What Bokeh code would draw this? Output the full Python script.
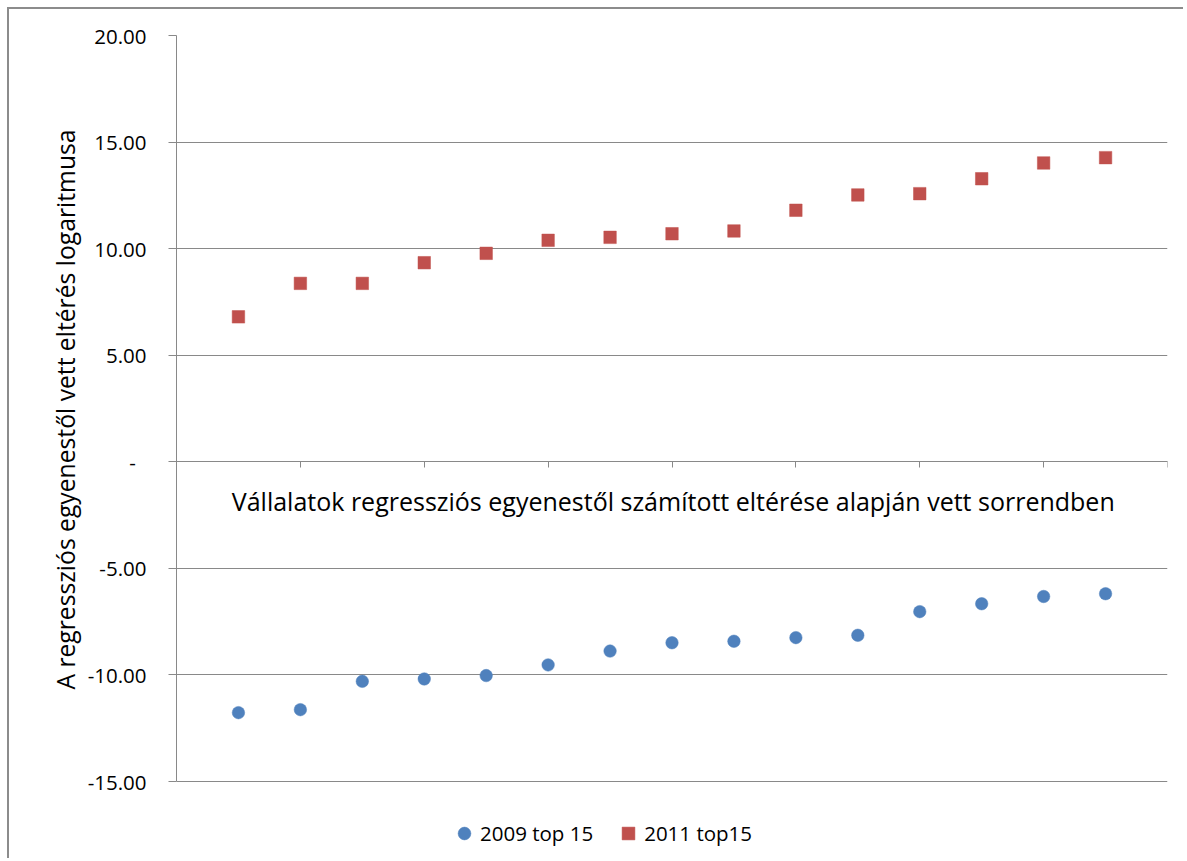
from bokeh.plotting import figure
from bokeh.models import FixedTicker, Legend, LegendItem, Range1d, Label, Title
from bokeh.embed import file_html
from bokeh.resources import INLINE

# ---- data ----
companies = list(range(1, 16))
top_2009 = [-11.77, -11.63, -10.30, -10.19, -10.03, -9.53, -8.88, -8.49,
            -8.42, -8.25, -8.14, -7.03, -6.66, -6.32, -6.19]
top_2011 = [6.80, 8.37, 8.37, 9.34, 9.78, 10.39, 10.53, 10.70,
            10.83, 11.80, 12.52, 12.58, 13.28, 14.02, 14.27]
series_names = ["2009 top 15", "2011 top15"]
y_ticks = [-15, -10, -5, 0, 5, 10, 15, 20]
y_tick_labels = ["-15.00", "-10.00", "-5.00", "-\u00a0\u00a0", "5.00", "10.00", "15.00", "20.00"]
x_ticks = [0, 2, 4, 6, 8, 10, 12, 14, 16]
x_title = "Vállalatok  regressziós egyenestől számított eltérése alapján vett sorrendben"
y_title = "A regressziós egyenestől vett eltérés logaritmusa"

FONT = "Open Sans"
GRAY = "#898989"
BLUE = "#4F81BD"
RED = "#C0504D"

# geometry: axis box spans y_ticks[0]..y_ticks[-1] over 746 px; the drawing
# frame extends further down so the legend can sit below the axis box.
FIG_W, FIG_H = 1176, 851
TOP, LEFT, RIGHT = 26, 167, 18
AXIS_PX = 746
frame_h = FIG_H - TOP
y_lo, y_hi = y_ticks[0], y_ticks[-1]
px_per_unit = AXIS_PX / (y_hi - y_lo)
y_start = y_hi - frame_h / px_per_unit

p = figure(width=FIG_W, height=FIG_H,
           x_range=Range1d(x_ticks[0], x_ticks[-1]), y_range=Range1d(y_start, y_hi),
           output_backend="svg", toolbar_location=None,
           min_border_left=LEFT, min_border_right=RIGHT,
           min_border_top=TOP, min_border_bottom=0)
p.outline_line_color = None
p.background_fill_color = "white"
p.border_fill_color = "white"

# grid
p.xgrid.visible = False
p.ygrid.ticker = FixedTicker(ticks=y_ticks)
p.ygrid.grid_line_color = GRAY
p.ygrid.grid_line_width = 1

# y axis
ya = p.yaxis[0]
ya.bounds = (y_lo, y_hi)
ya.ticker = FixedTicker(ticks=y_ticks)
ya.major_label_overrides = {t: s for t, s in zip(y_ticks, y_tick_labels)}
ya.axis_line_color = GRAY
ya.major_tick_line_color = GRAY
ya.major_tick_out = 8
ya.major_tick_in = 0
ya.minor_tick_out = 0
ya.minor_tick_in = 0
ya.major_label_standoff = 22
ya.major_label_text_font = FONT
ya.major_label_text_font_size = "20.5px"
ya.major_label_text_color = "black"

# y axis title; leading no-break spaces lift the visible text so that it is
# centred on the axis box rather than on the taller frame
p.add_layout(Title(text="\u00a0" * 12 + y_title, align="center", standoff=6,
                   text_font=FONT, text_font_size="24.7px",
                   text_font_style="normal", text_color="black"), "left")

# x axis drawn at y = 0
xa = p.xaxis[0]
xa.fixed_location = 0
xa.ticker = FixedTicker(ticks=x_ticks)
xa.major_label_overrides = {t: "" for t in x_ticks}
xa.axis_line_color = GRAY
xa.major_tick_line_color = GRAY
xa.major_tick_out = 6
xa.major_tick_in = 0
xa.minor_tick_out = 0
xa.minor_tick_in = 0
xa.major_label_standoff = 0

# x axis title just below the axis line (inside the plot area, as in the reference)
p.add_layout(Label(x=500, y=frame_h - 465, x_units="screen", y_units="screen",
                   text=x_title, text_align="center", text_baseline="alphabetic",
                   text_font=FONT, text_font_size="25px", text_color="black"))

r1 = p.scatter(companies, top_2009, marker="circle", size=12.5,
               fill_color=BLUE, line_color=BLUE, line_width=0.5)
r2 = p.scatter(companies, top_2011, marker="square", size=12.5,
               fill_color=RED, line_color=RED, line_width=0.5)

# legend glyph boxes of 32 px give markers of ~13 px (Bokeh draws them at 40 %)
legend = Legend(items=[LegendItem(label=series_names[0], renderers=[r1]),
                       LegendItem(label=series_names[1], renderers=[r2])],
                orientation="horizontal", location=(272, 11),
                glyph_width=32, glyph_height=32, spacing=19,
                label_standoff=-3, padding=0, margin=0,
                background_fill_alpha=0, border_line_color=None,
                label_text_font=FONT, label_text_font_size="20.5px",
                label_text_color="black")
p.add_layout(legend, "center")

p.styles = {"margin-left": "7px", "margin-top": "7px",
            "border-left": "2px solid #8c8c8c", "border-top": "2px solid #8c8c8c"}

open("out.html", "w").write(file_html(p, INLINE))
